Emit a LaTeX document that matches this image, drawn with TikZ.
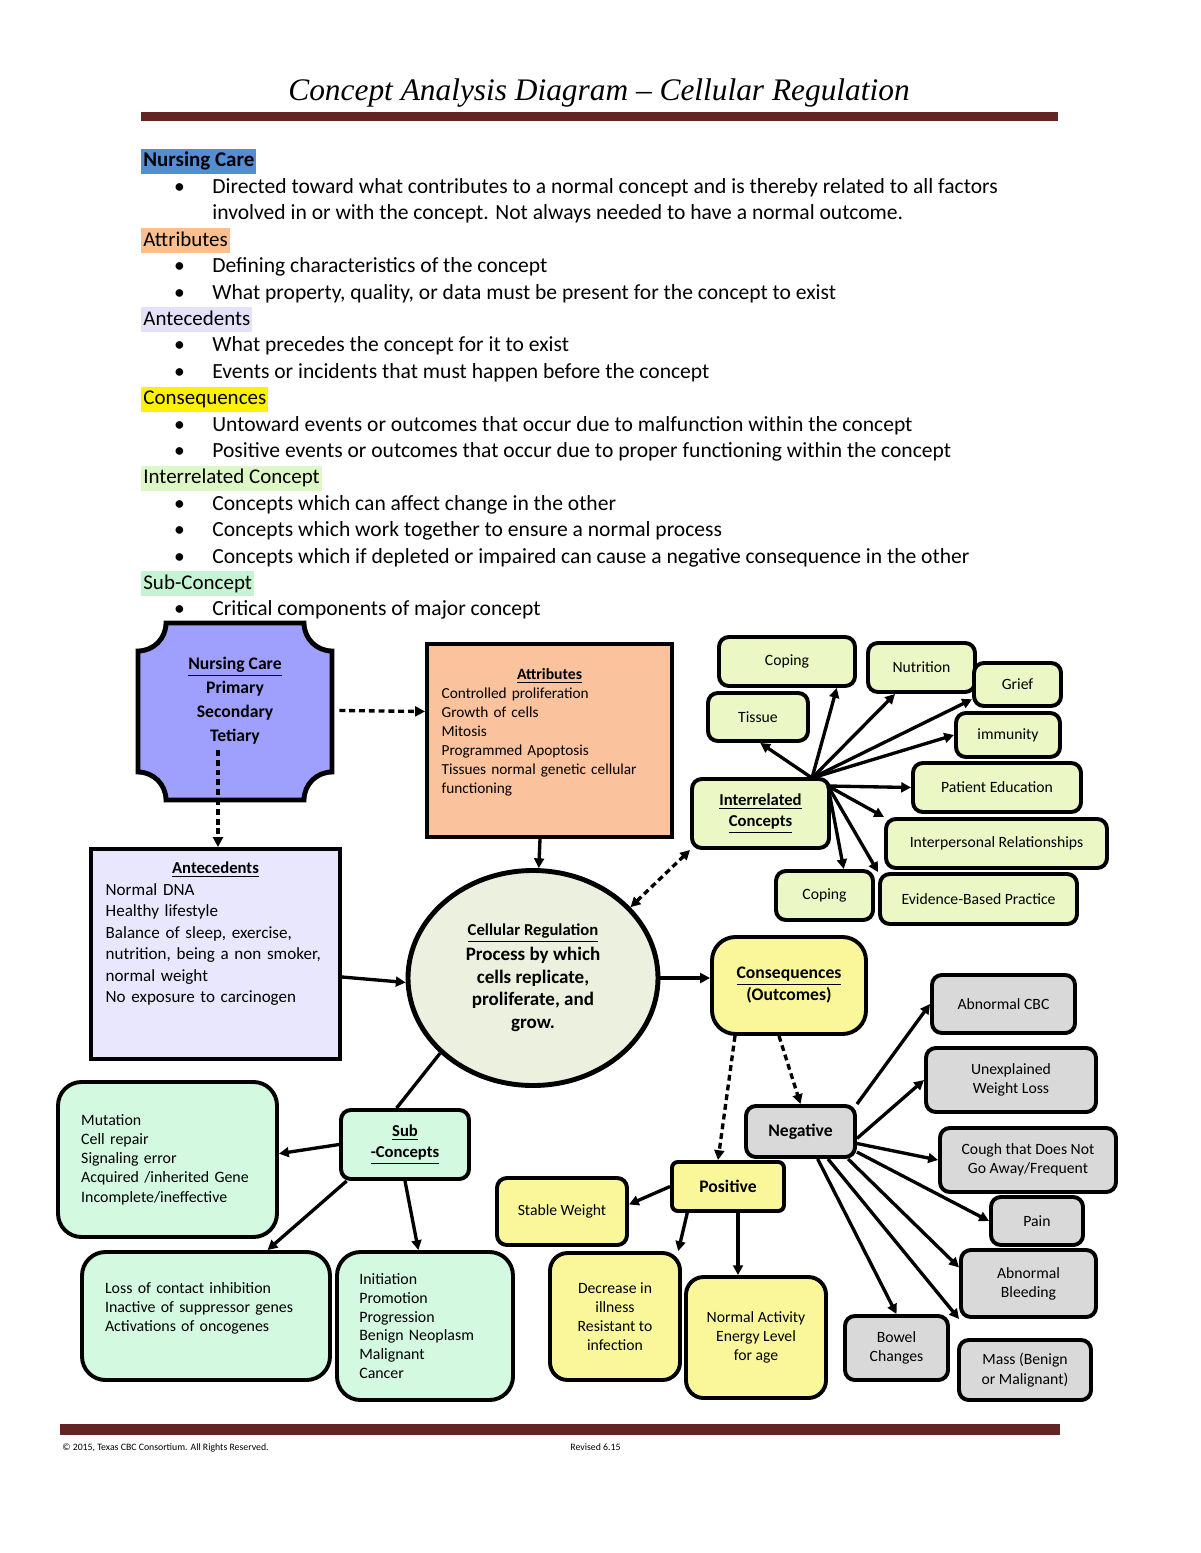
\documentclass[tikz,border=0pt]{standalone}
\usepackage{fontspec}
\setmainfont{Carlito}
\newfontfamily\ttlfont{Liberation Serif}
\usetikzlibrary{arrows.meta,calc,shapes.geometric}

\definecolor{rulered}{HTML}{632523}
\definecolor{hlblue}{HTML}{548DD4}
\definecolor{hlorange}{HTML}{FABF8F}
\definecolor{hllav}{HTML}{E5E1F8}
\definecolor{hlgreen}{HTML}{DDF8C6}
\definecolor{hlmint}{HTML}{C6F3D2}
\definecolor{ncfill}{HTML}{9FA0FE}
\definecolor{atfill}{HTML}{FAC39D}
\definecolor{anfill}{HTML}{E9E7FD}
\definecolor{crfill}{HTML}{EBF1DE}
\definecolor{lgfill}{HTML}{EBF7C4}
\definecolor{yfill}{HTML}{FAF79B}
\definecolor{gfill}{HTML}{D9D9D9}
\definecolor{mfill}{HTML}{D3F9E1}

\tikzset{
  bx/.style={draw, line width=2pt, rounded corners=5pt, inner sep=0pt},
  sz/.style 2 args={minimum width=#1*0.51pt, minimum height=#2*0.51pt},
  tiny/.style={align=center, font=\fontsize{8}{9.8}\selectfont},
  lst/.style={align=left, inner ysep=0pt},
  hl/.style={anchor=base west, inner xsep=1pt, inner ysep=1pt, text height=8.2pt, text depth=2.6pt, font=\fontsize{10.7}{12}\selectfont},
  ln/.style={anchor=base west, inner sep=0pt},
  conn/.style={line width=1.7pt},
  dconn/.style={conn, dash pattern=on 3pt off 2pt},
}

\newcommand{\blt}{\llap{\textbullet\hspace{14pt}}}

\begin{document}
\begin{tikzpicture}[x=0.51pt, y=-0.51pt, >={Triangle[length=5pt,width=5pt]}, font=\fontsize{11}{13}\selectfont]
\useasboundingbox (0,0) rectangle (1200,1553);

% title and rules
\node[font=\ttlfont\itshape\fontsize{16}{19}\selectfont] (TT) at (599,93) {Concept Analysis Diagram – Cellular Regulation};
\fill[rulered] (141,112) rectangle (1058,121);
\fill[rulered] (60,1424) rectangle (1060,1435);
\node[ln, font=\fontsize{5}{6}\selectfont] (FL) at (62,1450) {© 2015, Texas CBC Consortium. All Rights Reserved.};
\node[ln, font=\fontsize{5}{6}\selectfont] (FR) at (570,1450) {Revised 6.15};

% definitions
\node[hl, fill=hlblue, font=\bfseries\fontsize{10.7}{12}\selectfont] (H1) at (141,167) {Nursing Care};
\node[ln] (L1) at (212,193.4) {\blt Directed toward what contributes to a normal concept and is thereby related to all factors};
\node[ln] (L2) at (212,219.8) {involved in or with the concept. Not always needed to have a normal outcome.};
\node[hl, fill=hlorange] (H2) at (141,246.2) {Attributes};
\node[ln] (L3) at (212,272.6) {\blt Defining characteristics of the concept};
\node[ln] (L4) at (212,299) {\blt What property, quality, or data must be present for the concept to exist};
\node[hl, fill=hllav] (H3) at (141,325.4) {Antecedents};
\node[ln] (L5) at (212,351.8) {\blt What precedes the concept for it to exist};
\node[ln] (L6) at (212,378.2) {\blt Events or incidents that must happen before the concept};
\node[hl, fill=yellow] (H4) at (141,404.6) {Consequences};
\node[ln] (L7) at (212,431) {\blt Untoward events or outcomes that occur due to malfunction within the concept};
\node[ln] (L8) at (212,457.4) {\blt Positive events or outcomes that occur due to proper functioning within the concept};
\node[hl, fill=hlgreen] (H5) at (141,483.8) {Interrelated Concept};
\node[ln] (L9) at (212,510.2) {\blt Concepts which can affect change in the other};
\node[ln] (L10) at (212,536.6) {\blt Concepts which work together to ensure a normal process};
\node[ln] (L11) at (212,563) {\blt Concepts which if depleted or impaired can cause a negative consequence in the other};
\node[hl, fill=hlmint] (H6) at (141,589.4) {Sub-Concept};
\node[ln] (L12) at (212,615.8) {\blt Critical components of major concept};

% nursing care plaque
\draw[line width=2.5pt, fill=ncfill] (166,623) -- (304,623) arc[start angle=180, end angle=90, radius=28]
  -- (332,772) arc[start angle=270, end angle=180, radius=28]
  -- (166,800) arc[start angle=0, end angle=-90, radius=28]
  -- (138,651) arc[start angle=90, end angle=0, radius=28] -- cycle;
\node[sz={194}{177}, align=center, font=\bfseries\fontsize{9}{12.2}\selectfont] (NC) at (235,711.5) {\underline{Nursing Care}\\Primary\\Secondary\\Tetiary\\ \mbox{}};

% main boxes
\node[bx, rounded corners=0pt, sz={245}{193}, fill=atfill, lst, inner xsep=7.5pt, text width=110pt, font=\fontsize{7.8}{9.7}\selectfont] (AT) at (549.5,740.5)
  {\makebox[\linewidth]{\bfseries\fontsize{8}{9.7}\selectfont\underline{Attributes}}\\Controlled proliferation\\Growth of cells\\Mitosis\\Programmed Apoptosis\\Tissues normal genetic cellular\\functioning\\ \mbox{}};
\node[bx, rounded corners=0pt, sz={249}{210}, fill=anfill, lst, inner xsep=7.5pt, text width=112pt, font=\fontsize{8.7}{11}\selectfont] (AN) at (215.5,954)
  {\makebox[\linewidth]{\bfseries\fontsize{8.5}{11}\selectfont\underline{Antecedents}}\\Normal DNA\\Healthy lifestyle\\Balance of sleep, exercise,\\nutrition, being a non smoker,\\normal weight\\No exposure to carcinogen\\ \mbox{}\\ \mbox{}};
\node[ellipse, draw, line width=2.5pt, fill=crfill, sz={250}{215}, inner sep=0pt, align=center, font=\bfseries\fontsize{9.7}{11.6}\selectfont] (CR) at (533,978)
  {{\fontsize{8.5}{11}\selectfont\underline{Cellular Regulation}}\\[1pt]Process by which\\cells replicate,\\proliferate, and\\grow.};
\node[bx, sz={137}{69}, fill=lgfill, align=center, font=\bfseries\fontsize{8.5}{10.7}\selectfont] (IC) at (760.5,813.5) {\underline{Interrelated}\\\underline{Concepts}};
\node[bx, rounded corners=12pt, sz={154}{97}, fill=yfill, align=center, font=\bfseries\fontsize{9}{11.2}\selectfont] (CQ) at (789,985.5) {\underline{Consequences}\\(Outcomes)};
\node[bx, sz={128}{69}, fill=mfill, align=center, font=\bfseries\fontsize{8.5}{10.7}\selectfont] (SC) at (405,1144.5) {\underline{Sub}\\\underline{-Concepts}};

% interrelated concepts
\node[bx, sz={136}{49}, fill=lgfill, tiny] (CP1) at (787,661.5) {Coping};
\node[bx, sz={100}{48}, fill=lgfill, tiny] (TI) at (758,717) {Tissue};
\node[bx, sz={107}{49}, fill=lgfill, tiny] (NU) at (921.5,667.5) {Nutrition};
\node[bx, sz={87}{43}, fill=lgfill, tiny] (GR) at (1017.5,684.5) {Grief};
\node[bx, sz={104}{44}, fill=lgfill, tiny] (IM) at (1008,735) {immunity};
\node[bx, sz={168}{49}, fill=lgfill, tiny] (PE) at (997,787.5) {Patient Education};
\node[bx, sz={221}{49}, fill=lgfill, tiny] (IR) at (996.5,843.5) {Interpersonal Relationships};
\node[bx, sz={97}{49}, fill=lgfill, tiny] (CP2) at (824.5,895.5) {Coping};
\node[bx, sz={197}{50}, fill=lgfill, tiny] (EB) at (978.5,899) {Evidence-Based Practice};

% outcomes
\node[bx, sz={109}{51}, fill=gfill, font=\bfseries\fontsize{9}{11}\selectfont] (NG) at (800.5,1131.5) {Negative};
\node[bx, rounded corners=3pt, sz={112}{49}, fill=yfill, font=\bfseries\fontsize{9}{11}\selectfont] (PO) at (728,1186.5) {Positive};
\node[bx, sz={130}{67}, fill=yfill, tiny] (SW) at (562,1211.5) {Stable Weight};
\node[bx, rounded corners=9pt, sz={130}{127}, fill=yfill, tiny] (DI) at (615,1316.5) {Decrease in\\illness\\Resistant to\\infection};
\node[bx, rounded corners=9pt, sz={140}{121}, fill=yfill, tiny] (NA) at (756,1337.5) {Normal Activity\\Energy Level\\for age};
\node[bx, sz={143}{58}, fill=gfill, tiny] (AC) at (1003.5,1004) {Abnormal CBC};
\node[bx, sz={170}{64}, fill=gfill, tiny] (UW) at (1011,1080) {Unexplained\\Weight Loss};
\node[bx, sz={176}{64}, fill=gfill, tiny] (CG) at (1028,1160) {Cough that Does Not\\Go Away/Frequent};
\node[bx, sz={92}{48}, fill=gfill, tiny] (PA) at (1037,1221) {Pain};
\node[bx, sz={135}{67}, fill=gfill, tiny] (AB) at (1028.5,1283.5) {Abnormal\\Bleeding};
\node[bx, sz={103}{64}, fill=gfill, tiny] (BC) at (896.5,1348) {Bowel\\Changes};
\node[bx, sz={132}{60}, fill=gfill, tiny] (MS) at (1025,1370) {Mass (Benign\\or Malignant)};

% sub-concepts
\node[bx, rounded corners=12pt, sz={219}{155}, fill=mfill, lst, inner xsep=11.7pt, text width=88pt, font=\fontsize{8.1}{9.8}\selectfont] (ML) at (167.5,1159.5)
  {Mutation\\Cell repair\\Signaling error\\Acquired /inherited Gene\\Incomplete/ineffective};
\node[bx, rounded corners=12pt, sz={248}{128}, fill=mfill, lst, inner xsep=11.7pt, text width=103pt, font=\fontsize{8.1}{9.7}\selectfont] (LC) at (206,1316)
  {Loss of contact inhibition\\Inactive of suppressor genes\\Activations of oncogenes\\ \mbox{}};
\node[bx, rounded corners=12pt, sz={176}{148}, fill=mfill, lst, inner xsep=11.2pt, text width=67pt, font=\fontsize{8.1}{9.6}\selectfont] (IP) at (425,1326)
  {Initiation\\Promotion\\Progression\\Benign Neoplasm\\Malignant\\Cancer};

% connectors
\coordinate (d1) at (218,750);
\coordinate (H) at (812,778);
\coordinate (H2) at (828,786);
\draw[dconn, ->] ($(NC.east)+(7,-1)$) -- (AT.west |- NC.east);
\draw[dconn, ->] (d1) -- (d1 |- AN.north);
\draw[conn, ->] ($(AT.south)+(-9.5,0)$) -- (CR.87);
\draw[conn, ->] ($(AN.east)+(0,23)$) -- (CR.182);
\draw[dconn, <->] (CR.36) -- (IC.south west);
\draw[conn, ->] (CR.east) -- (CQ.west |- CR.east);
\draw[conn] (CR.-141) -- (SC.103);

\draw[conn, ->] (H) -- (CP1.-28);
\draw[conn, ->] (H) -- (TI.-85);
\draw[conn, ->] (H) -- (NU.-135);
\draw[conn, ->] (H) -- (GR.-162);
\draw[conn, ->] (H) -- (IM.west);
\draw[conn, ->] (H2) -- (PE.west);
\draw[conn, ->] (H2) -- (IR.north west);
\draw[conn, ->] (H2) -- (CP2.54);
\draw[conn, ->] (H2) -- (EB.north west);

\draw[dconn, ->] ($(CQ.south)+(-54,0)$) -- ($(PO.north)+(-10,0)$);
\draw[dconn, ->] ($(CQ.south)+(-10,0)$) -- (NG.north);

\draw[conn, ->] (PO.west) -- (SW.6);
\draw[conn, ->] (PO.-147) -- (DI.46);
\draw[conn, ->] ($(PO.south)+(10,0)$) -- ($(NA.north)+(-18,0)$);

\draw[conn, ->] (NG.north east) -- (AC.west);
\draw[conn, ->] (NG.-7) -- (UW.west);
\draw[conn, ->] (NG.-12) -- (CG.west);
\draw[conn, ->] (NG.-20) -- (PA.west);
\draw[conn, ->] (NG.-30) -- (AB.167);
\draw[conn, ->] (NG.-45) -- (AB.south west);
\draw[conn, ->] (NG.-58) -- (BC.north);

\draw[conn, ->] (SC.west) -- (ML.3);
\draw[conn, ->] (SC.-148) -- (LC.47);
\draw[conn, ->] (SC.south) -- (IP.95);
\end{tikzpicture}
\end{document}
